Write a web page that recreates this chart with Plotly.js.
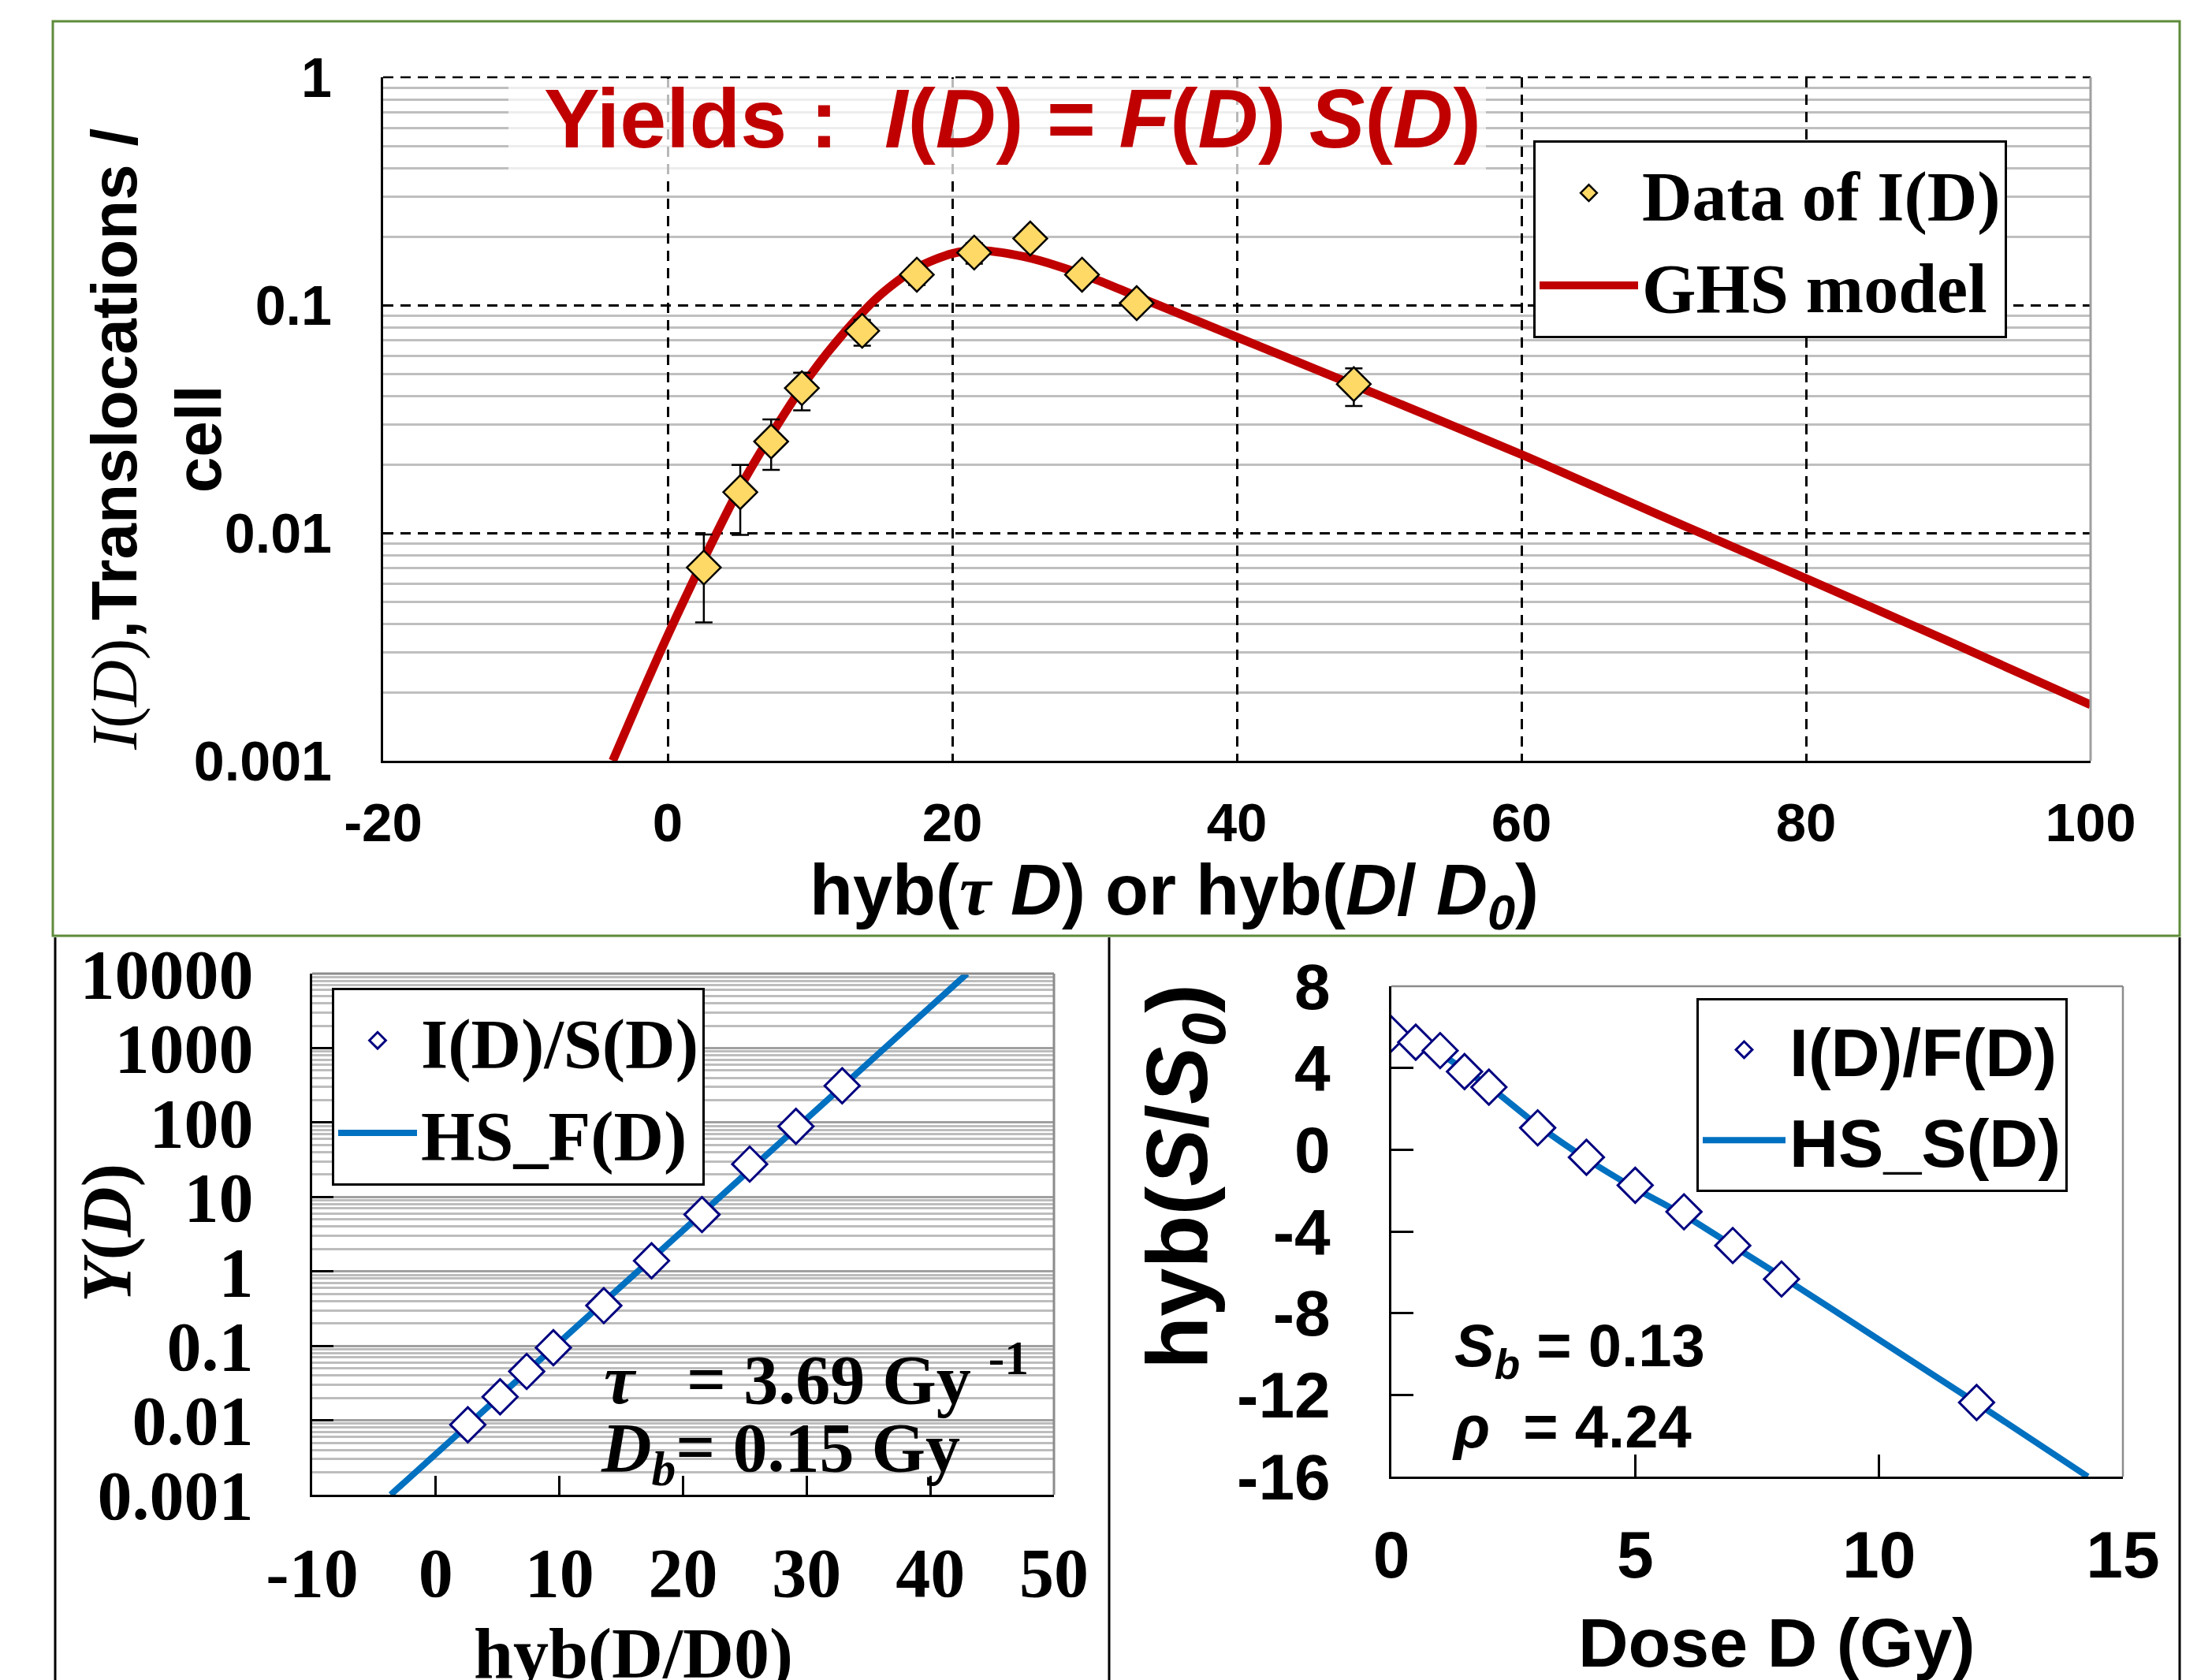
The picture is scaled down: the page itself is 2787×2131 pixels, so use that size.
<!DOCTYPE html>
<html><head><meta charset="utf-8">
<script src="https://cdn.plot.ly/plotly-3.0.1.min.js"></script>
<style>html,body{margin:0;padding:0;background:#fff;overflow:hidden}#chart{width:2787px;height:2131px}</style>
</head><body><div id="chart"></div>
<script>
const W = 2787, H = 2131;
const SANS = 'Liberation Sans, Arial, sans-serif';
const SERIF = 'Liberation Serif, Times New Roman, serif';

// ---------- Top panel: yields I(D) ----------
const dataX = [2.54, 5.10, 7.27, 9.43, 13.67, 17.51, 21.54, 25.48, 29.12, 32.96, 48.22];
const dataY = [0.00705, 0.0151, 0.0252, 0.0432, 0.0771, 0.136, 0.170, 0.196, 0.136, 0.102, 0.045];
const errPlus  = [0.0028, 0.0048, 0.0063, 0.0073, 0.0090, 0.013, 0.017, 0.010, 0.008, 0.006, 0.0078];
const errMinus = [0.0030, 0.0053, 0.0063, 0.0087, 0.0108, 0.0134, 0.018, 0.010, 0.008, 0.006, 0.0089];
const ghsX = [-3.86, -2, 0, 2.5, 5, 7.5, 10, 12.5, 15, 17.5, 20, 22, 25, 27.5, 30, 33, 40, 48, 60, 70, 80, 90, 100];
const ghsY = [0.001, 0.00186, 0.00355, 0.00759, 0.0155, 0.0284, 0.049, 0.0769, 0.1117, 0.1455, 0.1683, 0.1738, 0.1633, 0.1479, 0.1303, 0.1091, 0.0724, 0.0452, 0.0221, 0.01175, 0.00631, 0.00335, 0.00176];
const topXTicks = [-20, 0, 20, 40, 60, 80, 100];
const topXText = ['-20', '0', '20', '40', '60', '80', '100'];
const topYTicks = [0.001, 0.01, 0.1, 1];
const topYText = ['0.001', '0.01', '0.1', '1'];

// ---------- Bottom-left panel: Y(D) = I(D)/S(D) ----------
const ratioX = [2.59, 5.20, 7.35, 9.51, 13.59, 17.45, 21.53, 25.39, 29.13, 32.87];
const ratioY = [0.0087, 0.0207, 0.0453, 0.0946, 0.347, 1.39, 5.8, 27.6, 88.9, 312];
const hsfX = [-3.65, 0, 10, 20, 30, 42.97];
const hsfY = [0.001, 0.00353, 0.112, 3.55, 112, 10000];
const blXTicks = [-10, 0, 10, 20, 30, 40, 50];
const blXText = ['-10', '0', '10', '20', '30', '40', '50'];
const blYTicks = [0.001, 0.01, 0.1, 1, 10, 100, 1000, 10000];
const blYText = ['0.001', '0.01', '0.1', '1', '10', '100', '1000', '10000'];

// ---------- Bottom-right panel: hyb(S/S0) vs dose ----------
const doseX = [0, 0.5, 1, 1.5, 2, 3, 4, 5, 6, 7, 8, 12];
const survY = [5.67, 5.26, 4.85, 3.82, 3.06, 1.07, -0.37, -1.74, -3.04, -4.69, -6.33, -12.37];
const hssX = [0, 0.5, 1, 1.5, 2, 3, 4, 5, 6, 7, 8, 10, 12, 14.28];
const hssY = [6.2, 5.3, 4.7, 3.9, 3.1, 1.2, -0.45, -1.9, -3.2, -4.7, -6.2, -9.3, -12.4, -16];
const brXTicks = [0, 5, 10, 15];
const brXText = ['0', '5', '10', '15'];
const brYTicks = [-16, -12, -8, -4, 0, 4, 8];
const brYText = ['-16', '-12', '-8', '-4', '0', '4', '8'];

// minor log gridline positions (2..9 in each decade)
function minorLog(d0, d1) {
  const v = [];
  for (let d = d0; d < d1; d++) for (let k = 2; k <= 9; k++) v.push(+(k * Math.pow(10, d)).toPrecision(3));
  return v;
}

const px = x => x / W;
const py = y => 1 - y / H;

const traces = [
  { x: ghsX, y: ghsY, xaxis: 'x', yaxis: 'y', mode: 'lines', name: 'GHS model', legendrank: 2,
    line: { color: '#C00000', width: 11, shape: 'spline', smoothing: 0.8 } },
  { x: dataX, y: dataY, xaxis: 'x', yaxis: 'y', mode: 'markers', name: 'Data of I(D)', legendrank: 1,
    marker: { symbol: 'diamond', size: 33, color: '#FFD966', line: { color: '#000', width: 2.5 } },
    error_y: { type: 'data', symmetric: false, array: errPlus, arrayminus: errMinus, color: '#000', thickness: 2.5, width: 11 } },
  { x: hsfX, y: hsfY, xaxis: 'x2', yaxis: 'y2', mode: 'lines', name: 'HS_F(D)', legend: 'legend2', legendrank: 2,
    line: { color: '#0070C0', width: 8 } },
  { x: ratioX, y: ratioY, xaxis: 'x2', yaxis: 'y2', mode: 'markers', name: 'I(D)/S(D)', legend: 'legend2', legendrank: 1,
    marker: { symbol: 'diamond', size: 34, color: '#fff', line: { color: '#000080', width: 3 } } },
  { x: hssX, y: hssY, xaxis: 'x3', yaxis: 'y3', mode: 'lines', name: 'HS_S(D)', legend: 'legend3', legendrank: 2,
    line: { color: '#0070C0', width: 8, shape: 'spline', smoothing: 0.8 } },
  { x: doseX, y: survY, xaxis: 'x3', yaxis: 'y3', mode: 'markers', name: 'I(D)/F(D)', legend: 'legend3', legendrank: 1,
    marker: { symbol: 'diamond', size: 34, color: '#fff', line: { color: '#000080', width: 3 } } }
];

const tfSans = s => ({ family: SANS, size: s, color: '#000', weight: 'bold' });
const tfSerif = s => ({ family: SERIF, size: s, color: '#000', weight: 'bold' });

function ann(text, x, y, font, extra) {
  return Object.assign({ text, x: px(x), y: py(y), xref: 'paper', yref: 'paper', showarrow: false,
    xanchor: 'center', yanchor: 'middle', font }, extra || {});
}

const layout = {
  width: W, height: H,
  margin: { l: 0, r: 0, t: 0, b: 0, pad: 0 },
  paper_bgcolor: '#fff', plot_bgcolor: 'rgba(0,0,0,0)',
  showlegend: true,
  xaxis: {
    domain: [px(486), px(2652)], range: [-20, 100], anchor: 'y', automargin: false,
    tickmode: 'array', tickvals: topXTicks, ticktext: topXText, ticks: '', tickfont: tfSans(69), ticklabelstandoff: 16,
    showgrid: true, gridcolor: '#000', gridwidth: 2.5, griddash: '13px,9px',
    showline: true, linecolor: '#000', linewidth: 3, zeroline: false
  },
  yaxis: {
    domain: [py(965), py(98)], type: 'log', range: [-3, 0], anchor: 'x', automargin: false,
    tickmode: 'array', tickvals: topYTicks, ticktext: topYText, ticks: '', tickfont: tfSans(70), ticklabelstandoff: 48,
    showgrid: true, gridcolor: '#000', gridwidth: 2.5, griddash: '13px,9px',
    minor: { tickvals: minorLog(-3, 0), showgrid: true, gridcolor: '#BFBFBF', gridwidth: 3, griddash: 'solid', ticks: '' },
    showline: true, linecolor: '#000', linewidth: 3, zeroline: false
  },
  xaxis2: {
    domain: [px(396), px(1337)], range: [-10, 50], anchor: 'y2', automargin: false,
    tickmode: 'array', tickvals: blXTicks, ticktext: blXText, ticks: 'inside', ticklen: 24, tickwidth: 3, tickcolor: '#000',
    tickfont: tfSerif(88), ticklabelstandoff: 20, showgrid: false,
    showline: true, linecolor: '#000', linewidth: 3, zeroline: false
  },
  yaxis2: {
    domain: [py(1896), py(1235)], type: 'log', range: [-3, 4], anchor: 'x2', automargin: false,
    tickmode: 'array', tickvals: blYTicks, ticktext: blYText, ticks: 'inside', ticklen: 27, tickwidth: 3, tickcolor: '#000',
    tickfont: tfSerif(88), ticklabelstandoff: 54,
    showgrid: true, gridcolor: '#A0A0A0', gridwidth: 3,
    minor: { tickvals: minorLog(-3, 4), showgrid: true, gridcolor: '#BDBDBD', gridwidth: 3, ticks: '' },
    showline: true, linecolor: '#000', linewidth: 3, zeroline: false
  },
  xaxis3: {
    domain: [px(1765), px(2693)], range: [0, 15], anchor: 'y3', automargin: false,
    tickmode: 'array', tickvals: brXTicks, ticktext: brXText, ticks: 'inside', ticklen: 28, tickwidth: 3, tickcolor: '#000',
    tickfont: tfSans(84), ticklabelstandoff: 24, showgrid: false,
    showline: true, linecolor: '#000', linewidth: 3, zeroline: false
  },
  yaxis3: {
    domain: [py(1873), py(1251)], range: [-16, 8], anchor: 'x3', automargin: false,
    tickmode: 'array', tickvals: brYTicks, ticktext: brYText, ticks: 'inside', ticklen: 28, tickwidth: 3, tickcolor: '#000',
    tickfont: tfSans(82), ticklabelstandoff: 58, showgrid: false,
    showline: true, linecolor: '#000', linewidth: 3, zeroline: false
  },
  legend: {
    x: px(1945), y: py(178), xanchor: 'left', yanchor: 'top', bgcolor: '#fff', bordercolor: '#000', borderwidth: 3,
    font: tfSerif(88), itemwidth: 125, tracegroupgap: 0
  },
  legend2: {
    x: px(421), y: py(1253), xanchor: 'left', yanchor: 'top', bgcolor: '#fff', bordercolor: '#000', borderwidth: 3,
    font: tfSerif(88), itemwidth: 100, tracegroupgap: 0
  },
  legend3: {
    x: px(2152), y: py(1266), xanchor: 'left', yanchor: 'top', bgcolor: '#fff', bordercolor: '#000', borderwidth: 3,
    font: tfSans(86), itemwidth: 105, tracegroupgap: 0
  },
  shapes: [
    // top panel: dashed top gridline, gray right edge
    { type: 'line', xref: 'x domain', yref: 'y domain', x0: 0, x1: 1, y0: 1, y1: 1, line: { color: '#000', width: 2.5, dash: '13px,9px' } },
    { type: 'line', xref: 'x domain', yref: 'y domain', x0: 1, x1: 1, y0: 0, y1: 1, line: { color: '#A0A0A0', width: 3 } },
    // translucent box behind the title
    { type: 'rect', xref: 'paper', yref: 'paper', x0: px(645), x1: px(1885), y0: py(222), y1: py(100), line: { width: 0 }, fillcolor: 'rgba(255,255,255,0.72)' },
    // bottom-left frame top/right
    { type: 'line', xref: 'x2 domain', yref: 'y2 domain', x0: 0, x1: 1, y0: 1, y1: 1, line: { color: '#8C8C8C', width: 3 } },
    { type: 'line', xref: 'x2 domain', yref: 'y2 domain', x0: 1, x1: 1, y0: 0, y1: 1, line: { color: '#8C8C8C', width: 3 } },
    // bottom-right frame top/right
    { type: 'line', xref: 'x3 domain', yref: 'y3 domain', x0: 0, x1: 1, y0: 1, y1: 1, line: { color: '#8C8C8C', width: 2.5 } },
    { type: 'line', xref: 'x3 domain', yref: 'y3 domain', x0: 1, x1: 1, y0: 0, y1: 1, line: { color: '#8C8C8C', width: 2.5 } },
    // outer frames
    { type: 'rect', xref: 'paper', yref: 'paper', x0: px(67), x1: px(2765), y0: py(1187), y1: py(27), line: { color: '#5E8B3A', width: 3 } },
    { type: 'line', xref: 'paper', yref: 'paper', x0: px(70), x1: px(70), y0: py(1189), y1: 0, line: { color: '#000', width: 3 } },
    { type: 'line', xref: 'paper', yref: 'paper', x0: px(1407), x1: px(1407), y0: py(1189), y1: 0, line: { color: '#000', width: 3 } },
    { type: 'line', xref: 'paper', yref: 'paper', x0: px(2765), x1: px(2765), y0: py(1189), y1: 0, line: { color: '#000', width: 3 } }
  ],
  annotations: [
    ann('Yields :  <i>I</i>(<i>D</i>) = <i>F</i>(<i>D</i>) <i>S</i>(<i>D</i>)', 1284, 150,
        { family: SANS, size: 106, color: '#C00000', weight: 'bold' }),
    ann('<span style="font-family:Liberation Serif;font-weight:normal"><i>I</i>(<i>D</i>)</span>,Translocations /<br>cell', 198, 558,
        tfSans(82), { textangle: -90 }),
    ann('hyb(<span style="font-family:Liberation Serif"><i>τ</i></span> <i>D</i>) or hyb(<i>D</i>/ <i>D</i><sub><i>0</i></sub>)', 1489, 1135,
        tfSans(90)),
    ann('hyb(D/D0)', 803, 2098, tfSerif(90)),
    ann('<i>Y</i>(<i>D</i>)', 135, 1564, tfSerif(88), { textangle: -90 }),
    ann('<i>τ</i>   = 3.69 Gy <sup>-1</sup>', 764, 1743, tfSerif(88), { xanchor: 'left' }),
    ann('<i>D</i><sub><i>b</i></sub>= 0.15 Gy', 760, 1842, tfSerif(88), { xanchor: 'left' }),
    ann('Dose D (Gy)', 2254, 2083, tfSans(88)),
    ann('hyb(<i>S</i>/<i>S</i><sub><i>0</i></sub>)', 1500, 1493, tfSans(110), { textangle: -90 }),
    ann('<i>S</i><sub><i>b</i></sub> = 0.13', 1843, 1712, tfSans(76), { xanchor: 'left' }),
    ann('<i>ρ</i>  = 4.24', 1840, 1809, tfSans(76), { xanchor: 'left' })
  ]
};

Plotly.newPlot('chart', traces, layout, { displayModeBar: false, responsive: false });
</script>
</body></html>
